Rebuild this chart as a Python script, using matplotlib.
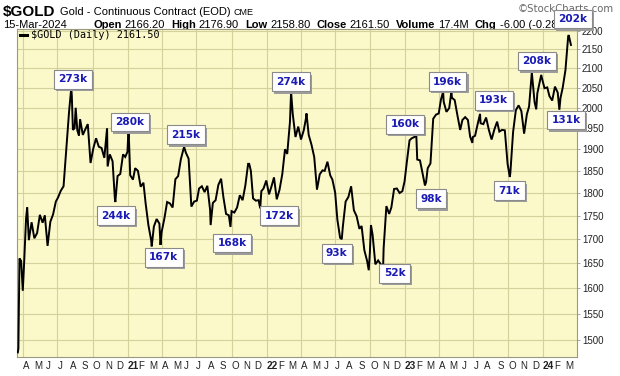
import numpy as np
import pandas as pd
import matplotlib
matplotlib.use("Agg")
import matplotlib.pyplot as plt
import matplotlib.patheffects as pe
from matplotlib.lines import Line2D
from matplotlib.transforms import blended_transform_factory
from matplotlib.ticker import FixedLocator, FixedFormatter, NullLocator

# ---- data ----
HOLIDAYS = ['2020-04-10', '2020-05-25', '2020-07-03', '2020-09-07', '2020-11-26', '2020-12-25',
            '2021-01-01', '2021-01-18', '2021-02-15', '2021-04-02', '2021-05-31', '2021-07-05',
            '2021-09-06', '2021-11-25', '2021-12-24',
            '2022-01-17', '2022-02-21', '2022-04-15', '2022-05-30', '2022-06-20', '2022-07-04',
            '2022-09-05', '2022-11-24', '2022-12-26',
            '2023-01-02', '2023-01-16', '2023-02-20', '2023-04-07', '2023-05-29', '2023-06-19',
            '2023-07-04', '2023-09-04', '2023-11-23', '2023-12-25',
            '2024-01-01', '2024-01-15', '2024-02-19']

# weekly (Friday) closes
close_2020 = [1485, 1655, 1640, 1745, 1698, 1736, 1702, 1713, 1752, 1735, 1751, 1686, 1737, 1753,
              1781, 1790, 1805, 1815, 1900, 1990, 2030, 1950, 1945, 1972, 1934, 1946, 1960, 1868,
              1902, 1926, 1906, 1903, 1880, 1950, 1888, 1872, 1790, 1838, 1843, 1888, 1882]
close_2021 = [1894, 1840, 1830, 1856, 1850, 1814, 1823, 1777, 1730, 1698, 1727, 1743, 1733, 1715,
              1744, 1780, 1777, 1768, 1831, 1838, 1877, 1902, 1892, 1878, 1770, 1781, 1783, 1810,
              1815, 1802, 1816, 1763, 1778, 1784, 1818, 1832, 1792, 1754, 1751, 1760, 1757, 1768,
              1795, 1784, 1817, 1866, 1850, 1788, 1783, 1784, 1804, 1810, 1828]
close_2022 = [1797, 1817, 1835, 1786, 1807, 1842, 1900, 1889, 1966, 1985, 1929, 1954, 1923, 1945,
              1974, 1934, 1911, 1882, 1808, 1842, 1851, 1850, 1871, 1840, 1830, 1801, 1742, 1703,
              1727, 1781, 1791, 1815, 1762, 1749, 1722, 1728, 1677, 1655, 1672, 1709, 1648, 1656,
              1648, 1681, 1771, 1754, 1768, 1809, 1810, 1800, 1804, 1826]
close_2023 = [1869, 1921, 1926, 1929, 1876, 1874, 1842, 1817, 1856, 1867, 1973, 1983, 1986, 2020,
              2015, 1990, 1999, 2025, 2019, 1981, 1946, 1970, 1977, 1970, 1930, 1929, 1932, 1962,
              1962, 1960, 1976, 1946, 1923, 1947, 1966, 1942, 1946, 1945, 1866, 1845, 1941, 1994,
              2006, 1992, 1937, 1984, 2003, 2089, 2014, 2036, 2069, 2071]
close_2024 = [2049, 2051, 2029, 2018, 2053, 2038, 2024, 2050, 2095, 2185, 2161.5]

# mid-week turning points
turn_dates = ['2020-03-19', '2020-03-24', '2020-04-01', '2020-04-14', '2020-08-06', '2020-08-11',
              '2020-08-18', '2020-08-26', '2020-11-09', '2020-11-30', '2021-01-05', '2021-03-08',
              '2021-03-30', '2021-06-01', '2021-08-09', '2021-09-29', '2021-11-16', '2021-12-15',
              '2022-03-08', '2022-04-18', '2022-05-16', '2022-07-20', '2022-09-28', '2022-10-04',
              '2022-11-03', '2023-02-01', '2023-02-28', '2023-04-13', '2023-05-04', '2023-06-29',
              '2023-07-20', '2023-10-05', '2023-12-13', '2023-12-27', '2024-02-14', '2024-03-11']
turn_close = [1478, 1660, 1595, 1768, 2050, 1946, 2000, 1932, 1860, 1780, 1950, 1685, 1688, 1905,
              1730, 1726, 1866, 1766, 2040, 1986, 1814, 1700, 1636, 1730, 1640, 1945, 1824, 2040,
              2040, 1915, 1985, 1836, 1996, 2083, 1995, 2188]

# callouts
callout_text = ['273k', '280k', '244k', '167k', '215k', '168k', '172k', '274k', '93k', '52k',
                '160k', '98k', '196k', '193k', '71k', '208k', '131k', '202k']
callout_dates = ['2020-08-11', '2021-01-07', '2020-12-01', '2021-04-08', '2021-06-04', '2021-10-04',
                 '2022-02-03', '2022-03-08', '2022-07-07', '2022-12-05', '2023-01-03', '2023-03-13',
                 '2023-04-25', '2023-08-24', '2023-10-04', '2023-12-14', '2024-03-04', '2024-03-20']
callout_price = [2072, 1965, 1750, 1662, 1934, 1692, 1750, 2065, 1671, 1630,
                 1960, 1787, 2066, 2019, 1805, 2119, 1970, 2232]

y_ticks = list(range(1500, 2201, 50))

# header quote line: (label, value)
quote = [('Open', '2166.20'), ('High', '2176.90'), ('Low', '2158.80'),
         ('Close', '2161.50'), ('Volume', '17.4M'), ('Chg', '-6.00 (-0.28%)')]

# ---- helpers ----
ORIGIN = np.datetime64('2021-01-04')


def tday(d):
    d = np.asarray(d, dtype='datetime64[D]')
    d = np.busday_offset(d, 0, roll='backward', holidays=HOLIDAYS)
    return np.busday_count(ORIGIN, d, holidays=HOLIDAYS)


fridays = pd.date_range('2020-03-20', '2024-03-15', freq='W-FRI')
weekly = pd.Series(close_2020 + close_2021 + close_2022 + close_2023 + close_2024, index=fridays)
turns = pd.Series(turn_close, index=pd.to_datetime(turn_dates))
series = pd.concat([weekly, turns]).sort_index()
series = series[~series.index.duplicated(keep='last')]
xs = tday(series.index.values.astype('datetime64[D]'))

# ---- figure ----
W, H = 620, 376
fig = plt.figure(figsize=(W / 100, H / 100), dpi=100)
L, R, T, B = 16.5, 577, 29, 357
ax = fig.add_axes([L / W, 1 - B / H, (R - L) / W, (B - T) / H])
ax.set_facecolor('#fbf8c9')

ax.plot(xs, series.values, color='black', lw=1.4, solid_joinstyle='miter', zorder=3)

ax.set_yscale('log')
ax.set_ylim(1469.6, 2204.6)
ax.set_xlim(tday('2020-03-19') - 2.4, tday('2024-03-15') + 11)

ax.yaxis.tick_right()
ax.yaxis.set_major_locator(FixedLocator(y_ticks))
ax.yaxis.set_major_formatter(FixedFormatter([str(v) for v in y_ticks]))
ax.yaxis.set_minor_locator(NullLocator())
ax.tick_params(axis='y', length=2, width=0.6, color='#999999', pad=1.5,
               labelsize=7, labelcolor='#222222')
for lab in ax.get_yticklabels():
    lab.set_family('Liberation Sans')

# month labels and quarter gridlines
months = pd.date_range('2020-04-01', '2024-03-01', freq='MS')
mx = tday(np.busday_offset(months.values.astype('datetime64[D]'), 0, roll='forward', holidays=HOLIDAYS))
ax.set_xticks([])
trans = blended_transform_factory(ax.transData, ax.transAxes)
for m, x in zip(months, mx):
    if m.month == 1:
        ax.text(x, -0.028, m.strftime('%y'), transform=trans, ha='left', va='center',
                fontsize=7.3, fontweight='bold', family='Liberation Sans', color='#222222')
    else:
        ax.text(x, -0.028, m.strftime('%b')[0], transform=trans, ha='left', va='center',
                fontsize=7, family='Liberation Sans', color='#222222')
    if m.month in (1, 4, 7, 10):
        ax.axvline(x, color='#d5d19c', lw=0.8, zorder=1)
for v in y_ticks:
    ax.axhline(v, color='#d5d19c', lw=0.8, zorder=1)

for s in ax.spines.values():
    s.set_color('#9a9a80')
    s.set_linewidth(0.8)

# callout boxes with drop shadow
for txt, d, p in zip(callout_text, callout_dates, callout_price):
    t = ax.text(tday(d), p, txt, ha='center', va='center', fontsize=7.6, fontweight='bold',
                color='#1a1ab4', family='DejaVu Sans', clip_on=False, zorder=6,
                bbox=dict(boxstyle='square,pad=0.42', fc='white', ec='#8a8a8a', lw=0.8))
    t.get_bbox_patch().set_path_effects([
        pe.SimplePatchShadow(offset=(1.6, -1.6), shadow_rgbFace='#9c9c9c', alpha=1.0),
        pe.Normal()])

# legend line inside plot
fig.add_artist(Line2D([20 / W, 27 / W], [1 - 35 / H, 1 - 35 / H], color='black', lw=2.2))
fig.text(31 / W, 1 - 35 / H, '\\$GOLD (Daily) 2161.50', family='DejaVu Sans Mono',
         fontsize=7.3, va='center', ha='left')

# header (drawn beneath the axes so the 202k box covers the tail, as in the original)
fig.text(3 / W, 1 - 16 / H, '\\$GOLD', fontsize=11, fontweight='bold',
         family='Liberation Sans', va='baseline', zorder=-1)
fig.text(60 / W, 1 - 15 / H, 'Gold - Continuous Contract (EOD)', fontsize=8,
         family='Liberation Sans', va='baseline', zorder=-1)
fig.text(233 / W, 1 - 15 / H, 'CME', fontsize=6.5, family='Liberation Sans', va='baseline',
         zorder=-1)
fig.text(614 / W, 1 - 12 / H, '\u00a9StockCharts.com', fontsize=7.3, color='#666666',
         family='DejaVu Sans', ha='right', va='baseline', zorder=-1)

fig.text(3 / W, 1 - 28 / H, '15-Mar-2024', fontsize=8, family='Liberation Sans',
         va='baseline', zorder=-1)
renderer = fig.canvas.get_renderer()
xpos = 93
for lab, val in quote:
    t = fig.text(xpos / W, 1 - 28 / H, lab, fontsize=8, fontweight='bold',
                 family='Liberation Sans', va='baseline', zorder=-1)
    xpos = t.get_window_extent(renderer).x1 + 3
    t = fig.text(xpos / W, 1 - 28 / H, val, fontsize=8, family='Liberation Sans',
                 va='baseline', zorder=-1)
    xpos = t.get_window_extent(renderer).x1 + 6

fig.savefig('out.png', dpi=100)
